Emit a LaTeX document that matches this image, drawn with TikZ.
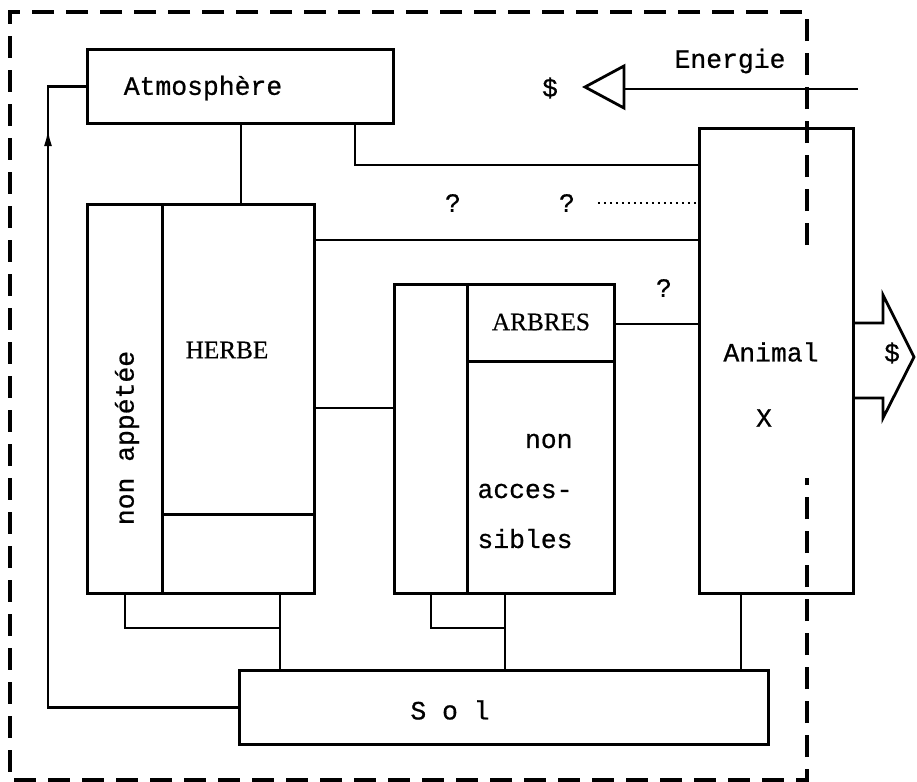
\documentclass[tikz,border=0pt]{standalone}
\usepackage{fontspec}
\setmainfont{Liberation Serif}
\setmonofont{Liberation Mono}
\newfontfamily\machfont[FakeBold=0.7]{Liberation Mono}
\newfontfamily\titrefont[FakeBold=0.4]{Liberation Serif}
\usepackage{tikz}
\usetikzlibrary{arrows.meta, decorations.markings}

\tikzset{
  bloc/.style={draw, rectangle, line width=1.4pt, inner sep=0pt, anchor=north west},
  lien/.style={line width=1.4pt},
  machine/.style={font=\machfont\fontsize{13.2}{25}\selectfont},
  titre/.style={font=\titrefont\fontsize{12.6}{14}\selectfont},
  cadre/.style={line width=2pt, dash pattern=on 11pt off 6pt},
}

\begin{document}
\begin{tikzpicture}[x=0.5pt, y=-0.5pt]
  \useasboundingbox (0,0) rectangle (917,782);
  % cadre du systeme
  \draw[cadre] (807,245) -- (807,12) -- (10,12) -- (10,780) -- (807,780) -- (807,478);
  % boites
  \node[bloc, minimum width=153pt, minimum height=37pt] (atm) at (86,48) {};
  \node[bloc, minimum width=37.5pt, minimum height=194.5pt] (napp) at (86,203) {};
  \node[bloc, minimum width=76pt, minimum height=155pt] (herbe) at (161,203) {};
  \node[bloc, minimum width=76pt, minimum height=39.5pt] (herbebas) at (161,513) {};
  \node[bloc, minimum width=36.5pt, minimum height=154.5pt] (arbg) at (393,283) {};
  \node[bloc, minimum width=73.5pt, minimum height=38.5pt] (arbres) at (466,283) {};
  \node[bloc, minimum width=73.5pt, minimum height=116pt] (nonacc) at (466,360) {};
  \node[bloc, minimum width=77pt, minimum height=232.5pt] (animal) at (698,127) {};
  \node[bloc, minimum width=264.5pt, minimum height=37pt] (sol) at (238,669) {};
  % textes
  \node[machine] (tatm) at (203,88) {Atmosphère};
  \node[titre] (therbe) at (227,350) {HERBE};
  \node[machine, rotate=90] (tnapp) at (127,438) {non appétée};
  \node[titre] (tarbres) at (541,322) {ARBRES};
  \node[machine, align=left] (tnonacc) at (525,491) {\phantom{xxx}non\\acces-\\sibles};
  \node[machine] (tanimal) at (771,352) {Animal};
  \node[machine] (tx) at (764,418) {X};
  \node[machine] (tsol) at (450,710) {S o l};
  \node[machine] (tenergie) at (730,61) {Energie};
  \node[machine] (dol1) at (550,88) {\$};
  \node[machine] (dol2) at (892,353) {\$};
  \node[machine] (q1) at (453,203) {?};
  \node[machine] (q2) at (567,203) {?};
  \node[machine] (q3) at (664,288) {?};
  % liaisons
  \draw[lien] (atm.south -| 241,0) -- (herbe.north -| 241,0);
  \draw[lien] (atm.south -| 355,0) |- (animal.west |- 0,165);
  \draw[lien] (herbe.east |- 0,240) -- (animal.west |- 0,240);
  \draw[lien] (herbe.east |- 0,408) -- (arbg.west |- 0,408);
  \draw[lien] (arbres.east |- 0,324) -- (animal.west |- 0,324);
  \draw[dotted, line width=1pt] ([xshift=8pt]q2.east) -- (animal.west |- q2.east);
  % vers le sol
  \coordinate (j1) at (280,628);
  \coordinate (j2) at (505,628);
  \draw[lien] (napp.south) |- (j1);
  \draw[lien] (herbebas.south -| j1) -- (sol.north -| j1);
  \draw[lien] (arbg.south) |- (j2);
  \draw[lien] (nonacc.south -| j2) -- (sol.north -| j2);
  \draw[lien] (animal.south -| 741,0) -- (sol.north -| 741,0);
  % retour sol -> atmosphere
  \draw[lien, postaction={decorate}, decoration={markings,
    mark=at position 0.906 with {\arrow{Latex[length=9pt, width=4pt]}}}]
    (sol.west) -| (atm.west -| 48,0) -- (atm.west);
  % energie
  \coordinate (source) at (858,89);
  \coordinate (pointe) at (624,89);
  \draw[lien] (585,87) -- (624,66) -- (624,108) -- cycle;
  \draw[lien] (source) -- (pointe);
  % sortie
  \draw[lien] (animal.east |- 0,323) -- (883,323) -- (883,295) -- (914,357)
    -- (883,418) -- (883,398) -- (animal.east |- 0,398);
\end{tikzpicture}
\end{document}
